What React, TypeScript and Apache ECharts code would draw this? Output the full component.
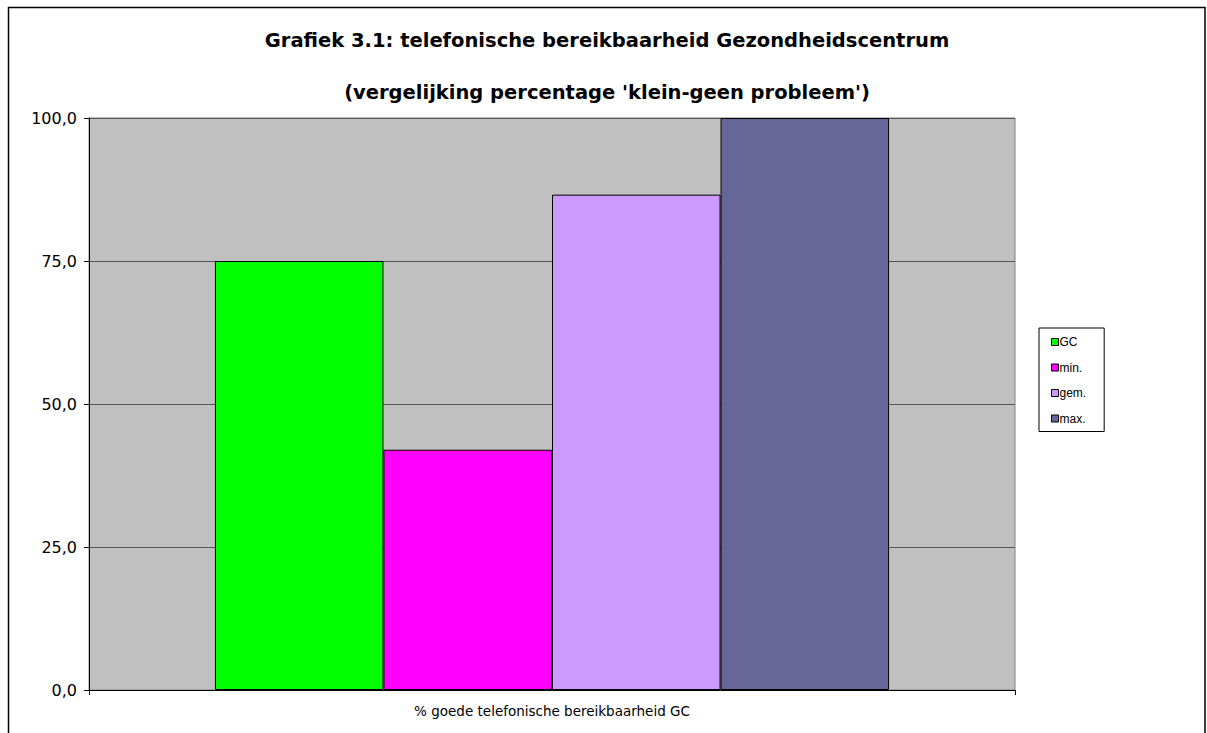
import React, { useEffect, useRef } from "react";
import * as echarts from "echarts";

const categories = ["% goede telefonische bereikbaarheid GC"];
const seriesNames = ["GC", "min.", "gem.", "max."];
const seriesValues = [75.0, 42.0, 86.6, 100.0];
const seriesColors = ["#00FF00", "#FF00FF", "#CC99FF", "#666699"];
const yTicks = { min: 0, max: 100, interval: 25 };
const titleLines = [
  "Grafiek 3.1: telefonische bereikbaarheid Gezondheidscentrum",
  "(vergelijking percentage 'klein-geen probleem')",
];

export default function App() {
  const ref = useRef<HTMLDivElement>(null);
  useEffect(() => {
    if (!ref.current) return;
    const chart = echarts.init(ref.current, null, { renderer: "svg" });
    const option: any = {
      animation: false,
      backgroundColor: "#ffffff",
      grid: {
        left: 89,
        top: 118,
        right: 1207 - 1015,
        bottom: 733 - 690,
        show: true,
        backgroundColor: "#C0C0C0",
        borderColor: "#808080",
        borderWidth: 1,
        containLabel: false,
      },
      legend: {
        orient: "vertical",
        left: 1039,
        top: 328,
        itemWidth: 7,
        itemHeight: 7,
        itemGap: 13.5,
        padding: [8, 18, 7, 12],
        borderColor: "#000000",
        borderWidth: 1,
        icon: "rect",
        textStyle: { fontFamily: "Liberation Sans", fontSize: 12, color: "#000", padding: [0, 0, 0, -4] },
        data: seriesNames.map((n, i) => ({
          name: n,
          itemStyle: { color: seriesColors[i], borderColor: "#000", borderWidth: 1 },
        })),
      },
      xAxis: {
        type: "category",
        data: categories,
        axisLine: { show: true, lineStyle: { color: "#000", width: 1 } },
        axisTick: { show: true, length: 5, lineStyle: { color: "#000" } },
        axisLabel: { fontFamily: "DejaVu Sans", fontSize: 13.5, color: "#000", margin: 14 },
        splitLine: { show: false },
      },
      yAxis: {
        type: "value",
        min: yTicks.min,
        max: yTicks.max,
        interval: yTicks.interval,
        axisLine: { show: true, lineStyle: { color: "#000", width: 1 } },
        axisTick: { show: true, length: 5, lineStyle: { color: "#000" } },
        axisLabel: {
          fontFamily: "DejaVu Sans",
          fontSize: 16,
          color: "#000",
          margin: 12,
          formatter: (v: number) => v.toFixed(1).replace(".", ","),
        },
        splitLine: { show: true, lineStyle: { color: "#555555", width: 1 } },
      },
      series: seriesNames.map((n, i) => ({
        name: n,
        type: "bar",
        data: [seriesValues[i]],
        barGap: "0%",
        barCategoryGap: "27.2%",
        itemStyle: { color: seriesColors[i], borderColor: "#000", borderWidth: 1 },
      })),
      graphic: [
        {
          type: "rect",
          shape: { x: 8.5, y: 7.5, width: 1196.5, height: 740 },
          style: { fill: "none", stroke: "#000", lineWidth: 1.5 },
          z: 100,
        },
        {
          type: "text",
          x: 607,
          y: 40,
          style: {
            text: titleLines[0],
            fontFamily: "DejaVu Sans",
            fontWeight: "bold",
            fontSize: 19.5,
            fill: "#000",
            align: "center",
            verticalAlign: "middle",
          },
        },
        {
          type: "text",
          x: 607,
          y: 92,
          style: {
            text: titleLines[1],
            fontFamily: "DejaVu Sans",
            fontWeight: "bold",
            fontSize: 19.5,
            fill: "#000",
            align: "center",
            verticalAlign: "middle",
          },
        },
      ],
    };
    chart.setOption(option);
    return () => chart.dispose();
  }, []);
  return (
    <div
      ref={ref}
      style={{ position: "fixed", left: 0, top: 0, width: 1207, height: 733 }}
    />
  );
}
